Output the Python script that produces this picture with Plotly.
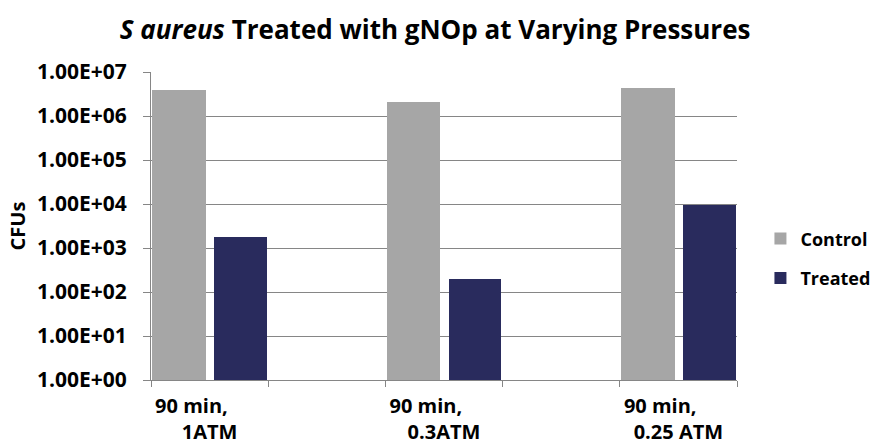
import plotly.graph_objects as go

NB = "\u00a0"
categories = ["90 min," + NB * 7 + "<br>1ATM", "90 min," + NB * 7 + "<br>0.3ATM", "90 min," + NB * 7 + "<br>0.25 ATM"]
positions = [0, 2, 4]
control = [3.9e6, 2.1e6, 4.4e6]
treated = [1.8e3, 2.0e2, 9.5e3]
ytick_vals = [1e0, 1e1, 1e2, 1e3, 1e4, 1e5, 1e6, 1e7]
ytick_text = ["1.00E+00", "1.00E+01", "1.00E+02", "1.00E+03", "1.00E+04", "1.00E+05", "1.00E+06", "1.00E+07"]

FONT = "'Open Sans', sans-serif"

fig = go.Figure()
fig.add_trace(go.Bar(x=positions, y=control, name="<b>Control</b>", offset=-0.49, width=0.46,
                     marker=dict(color="#A6A6A6", line=dict(width=0)), legendgroup="c"))
fig.add_trace(go.Bar(x=positions, y=treated, name="<b>Treated</b>", offset=0.04, width=0.45,
                     marker=dict(color="#292B5D", line=dict(width=0)), legendgroup="t"))

fig.update_layout(
    width=872, height=445,
    margin=dict(l=151, r=135, t=72, b=65, autoexpand=False),
    paper_bgcolor="white", plot_bgcolor="white",
    font=dict(family=FONT, color="black"),
    title=dict(text="<b><i>S aureus</i> Treated with gNOp at Varying Pressures</b>",
               x=0.499, xanchor="center", y=0.933, yanchor="middle",
               font=dict(size=26, family=FONT, color="black")),
    showlegend=True,
    legend=dict(x=1.04, xanchor="left", y=0.395, yanchor="middle",
                font=dict(size=18, family=FONT), tracegroupgap=13,
                itemwidth=30),
    bargap=0,
)
fig.update_xaxes(
    range=[-0.5, 4.5],
    tickvals=positions, ticktext=[f"<b>{c}</b>" for c in categories],
    ticks="", tickfont=dict(size=20, family=FONT),
    ticklabelstandoff=8,
    showline=True, linecolor="#868686", linewidth=1,
    showgrid=False, zeroline=False,
    minor=dict(tickvals=[-0.5, 0.5, 1.5, 2.5, 3.5, 4.5], ticks="outside", ticklen=6,
               tickcolor="#868686", showgrid=False),
)
fig.update_yaxes(
    type="log", range=[0, 7],
    tickvals=ytick_vals, ticktext=[f"<b>{t}</b>" for t in ytick_text],
    ticks="outside", ticklen=7, tickcolor="#868686",
    tickfont=dict(size=21, family=FONT),
    ticklabelstandoff=12,
    showline=True, linecolor="#868686", linewidth=1,
    showgrid=True, gridcolor="#868686", gridwidth=1,
    title=dict(text="<b>CFUs</b>", font=dict(size=20, family=FONT), standoff=6),
)

fig.write_html("out.html", config={"displayModeBar": False},
               post_script="document.body.style.margin='0';document.body.style.overflow='hidden';")
